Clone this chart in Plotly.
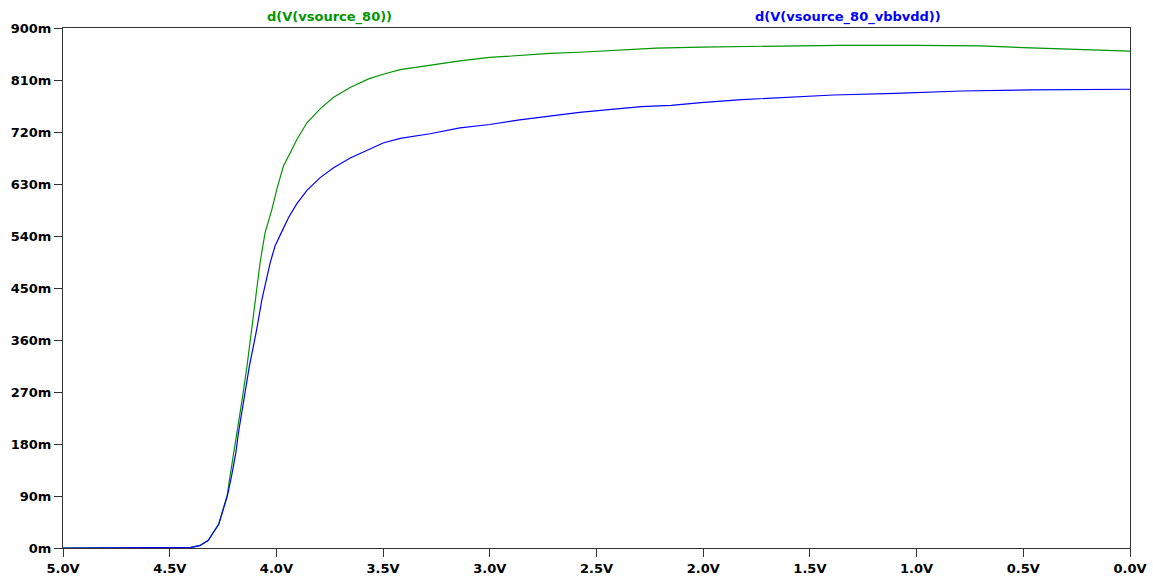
import plotly.graph_objects as go

# Sweep voltage (V) and derivative values (m = milli)
green_v = [5.0, 4.44, 4.40, 4.36, 4.32, 4.27, 4.25, 4.23, 4.22, 4.20, 4.182, 4.16, 4.138, 4.118,
           4.098, 4.076, 4.053, 4.021, 3.998, 3.967, 3.935, 3.904, 3.857, 3.795, 3.732, 3.654,
           3.568, 3.50, 3.42, 3.28, 3.14, 3.00, 2.86, 2.72, 2.58, 2.43, 2.22, 2.01, 1.75, 1.37,
           1.00, 0.70, 0.43, 0.28, 0.0]
green_y = [0, 0, 1, 4, 13, 42, 66, 92, 118, 165, 199, 258, 314, 373,
           430, 495, 546, 586, 621, 661, 684, 707, 736, 760, 780, 797,
           812, 820, 828, 836, 843, 849, 853, 856, 858, 861, 865, 867, 868, 870,
           870, 869, 865, 863, 860]

blue_v = [5.0, 4.44, 4.40, 4.36, 4.32, 4.27, 4.25, 4.23, 4.21, 4.19, 4.178, 4.127, 4.095,
          4.068, 4.029, 4.006, 3.974, 3.943, 3.904, 3.857, 3.795, 3.732, 3.654, 3.568, 3.50,
          3.42, 3.28, 3.14, 3.00, 2.86, 2.72, 2.58, 2.43, 2.29, 2.15, 2.01, 1.82, 1.59, 1.39,
          1.10, 0.79, 0.46, 0.0]
blue_y = [0, 0, 1, 4, 13, 41, 64, 90, 125, 165, 199, 314, 373,
          430, 494, 523, 548, 572, 596, 619, 641, 658, 675, 690, 701,
          709, 717, 727, 733, 741, 747, 754, 759, 764, 766, 771, 776, 780, 784,
          787, 791, 793, 794]

y_ticks = [0, 90, 180, 270, 360, 450, 540, 630, 720, 810, 900]
y_labels = ["0m", "90m", "180m", "270m", "360m", "450m", "540m", "630m", "720m", "810m", "900m"]
x_ticks = [5.0, 4.5, 4.0, 3.5, 3.0, 2.5, 2.0, 1.5, 1.0, 0.5, 0.0]
x_labels = ["5.0V", "4.5V", "4.0V", "3.5V", "3.0V", "2.5V", "2.0V", "1.5V", "1.0V", "0.5V", "0.0V"]

names = ["d(V(vsource_80))", "d(V(vsource_80_vbbvdd))"]
GREEN = "rgb(0,150,0)"
BLUE = "rgb(0,0,255)"

fig = go.Figure()
fig.add_trace(go.Scatter(x=green_v, y=green_y, mode="lines", name=names[0],
                         line=dict(color=GREEN, width=1.2)))
fig.add_trace(go.Scatter(x=blue_v, y=blue_y, mode="lines", name=names[1],
                         line=dict(color=BLUE, width=1.2)))

tickfont = dict(family="DejaVu Sans", size=13, color="black", weight="bold")
fig.update_layout(
    width=1153, height=577,
    margin=dict(l=63, r=23, t=28, b=29),
    paper_bgcolor="white", plot_bgcolor="white",
    showlegend=False,
    xaxis=dict(range=[5.0, 0.0], tickvals=x_ticks, ticktext=x_labels, automargin=False,
               showgrid=False, zeroline=False, showline=True, mirror=True,
               linecolor="#333333", linewidth=1, ticks="outside", ticklen=8,
               tickcolor="#333333", tickfont=tickfont),
    yaxis=dict(range=[0, 900], tickvals=y_ticks, ticktext=y_labels, automargin=False,
               showgrid=False, zeroline=False, showline=True, mirror=True,
               linecolor="#333333", linewidth=1, ticks="outside", ticklen=8,
               tickcolor="#333333", tickfont=tickfont),
    annotations=[
        dict(text=names[0], xref="paper", yref="paper", x=0.2493, y=1 + 11 / 520,
             xanchor="center", yanchor="middle", showarrow=False,
             font=dict(family="DejaVu Sans", size=13, color=GREEN, weight="bold")),
        dict(text=names[1], xref="paper", yref="paper", x=0.7357, y=1 + 11 / 520,
             xanchor="center", yanchor="middle", showarrow=False,
             font=dict(family="DejaVu Sans", size=13, color=BLUE, weight="bold")),
    ],
)

fig.write_html("out.html", config={"displayModeBar": False},
               post_script="document.body.style.margin='0';document.body.style.overflow='hidden';")
